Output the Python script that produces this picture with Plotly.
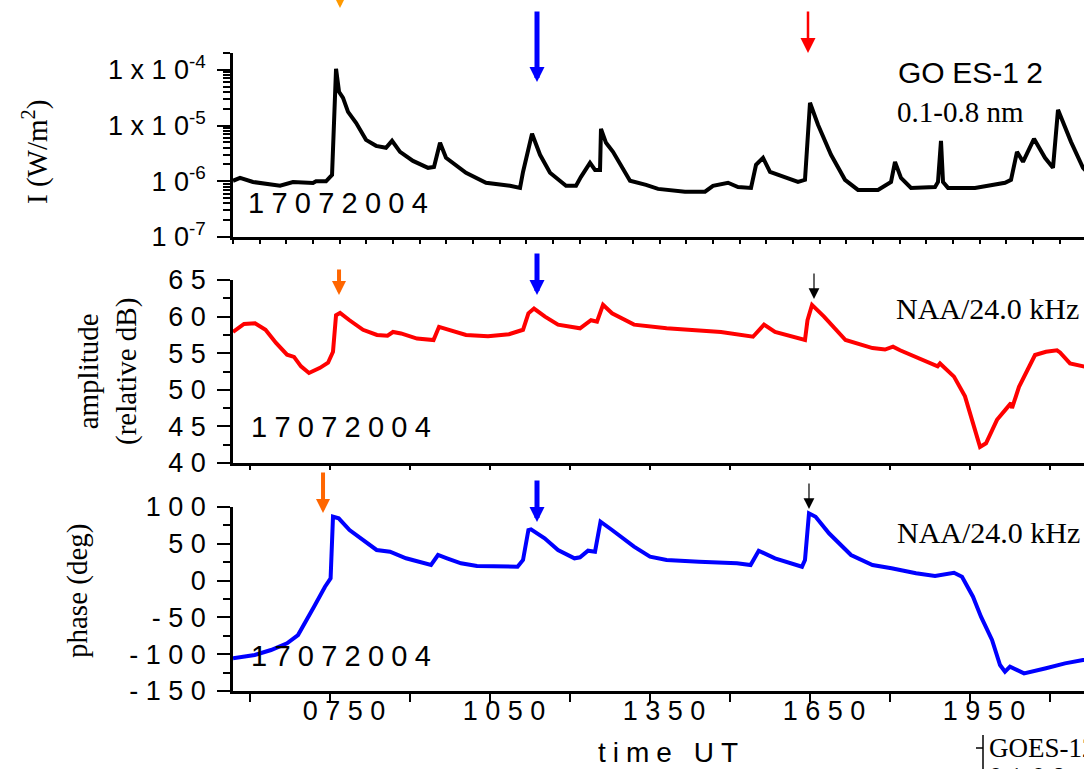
import plotly.graph_objects as go

# ---------------- data (time in decimal hours UT) ----------------
goes_time = [5.681, 5.813, 6.056, 6.300, 6.563, 6.806, 7.181, 7.238, 7.425, 7.538,
             7.613, 7.669, 7.744, 7.838, 7.988, 8.175, 8.363, 8.550, 8.663, 8.813,
             9.056, 9.338, 9.450, 9.563, 9.675, 10.050, 10.425, 10.875, 11.063, 11.119,
             11.288, 11.438, 11.625, 11.925, 12.113, 12.206, 12.375, 12.469, 12.563, 12.581,
             12.675, 12.806, 13.125, 13.425, 13.650, 14.156, 14.531, 14.681, 14.963, 15.150,
             15.394, 15.488, 15.619, 15.750, 15.900, 16.275, 16.406, 16.500, 16.650, 16.894,
             17.156, 17.400, 17.775, 18.019, 18.094, 18.206, 18.394, 18.844, 18.900, 18.956,
             18.994, 19.088, 19.594, 20.156, 20.269, 20.381, 20.494, 20.700, 20.906, 21.056,
             21.150, 21.394, 21.619, 21.750]
goes_flux = [1.02e-6, 1.15e-6, 0.97e-6, 0.90e-6, 0.83e-6, 0.97e-6, 0.93e-6, 1.0e-6, 1.0e-6, 1.30e-6,
             1.04e-4, 4.03e-5, 3.14e-5, 1.76e-5, 1.12e-5, 5.53e-6, 4.32e-6, 3.98e-6, 5.31e-6, 3.37e-6,
             2.32e-6, 1.74e-6, 1.81e-6, 4.89e-6, 2.63e-6, 1.42e-6, 0.94e-6, 0.83e-6, 0.76e-6, 1.47e-6,
             7.10e-6, 2.98e-6, 1.42e-6, 0.83e-6, 0.83e-6, 1.20e-6, 2.14e-6, 1.60e-6, 1.60e-6, 8.73e-6,
             4.89e-6, 3.37e-6, 1.02e-6, 0.86e-6, 0.73e-6, 0.65e-6, 0.65e-6, 0.83e-6, 0.94e-6, 0.79e-6,
             0.76e-6, 1.97e-6, 2.63e-6, 1.47e-6, 1.30e-6, 0.97e-6, 1.06e-6, 2.56e-5, 1.03e-5, 2.98e-6,
             1.06e-6, 0.70e-6, 0.70e-6, 0.97e-6, 2.23e-6, 1.15e-6, 0.76e-6, 0.79e-6, 0.97e-6, 5.31e-6,
             0.97e-6, 0.76e-6, 0.76e-6, 0.94e-6, 1.06e-6, 3.37e-6, 2.23e-6, 5.77e-6, 2.63e-6, 1.74e-6,
             1.91e-5, 5.09e-6, 1.74e-6, 1.30e-6]

amp_time = [5.681, 5.888, 6.094, 6.291, 6.488, 6.694, 6.825, 6.956, 7.106, 7.313,
            7.463, 7.556, 7.613, 7.688, 7.866, 8.119, 8.381, 8.578, 8.681, 8.831,
            9.131, 9.441, 9.544, 9.750, 10.050, 10.463, 10.856, 11.119, 11.220, 11.325,
            11.531, 11.775, 12.188, 12.394, 12.506, 12.619, 12.788, 13.200, 13.811, 14.831,
            15.431, 15.638, 15.844, 16.406, 16.453, 16.538, 16.763, 17.166, 17.672, 17.906,
            18.056, 18.188, 18.893, 18.938, 19.200, 19.406, 19.556, 19.688, 19.800, 20.006,
            20.213, 20.269, 20.288, 20.419, 20.719, 20.925, 21.131, 21.188, 21.375, 21.619,
            21.750]
amp_db = [57.9, 59.0, 59.1, 58.2, 56.4, 54.8, 54.5, 53.2, 52.3, 53.0,
          53.7, 55.2, 60.2, 60.5, 59.5, 58.2, 57.5, 57.4, 57.9, 57.7,
          57.0, 56.8, 58.6, 58.2, 57.5, 57.3, 57.6, 58.2, 60.45, 61.1,
          60.0, 58.9, 58.4, 59.5, 59.3, 61.6, 60.45, 58.9, 58.4, 57.9,
          57.25, 58.9, 57.9, 56.8, 59.5, 61.6, 60.0, 56.8, 55.7, 55.5,
          55.9, 55.4, 53.2, 53.6, 51.8, 49.1, 45.5, 42.2, 42.7, 45.9,
          47.7, 48.2, 47.5, 50.4, 54.75, 55.2, 55.4, 55.1, 53.6, 53.2,
          53.0]

phase_time = [5.681, 6.088, 6.394, 6.694, 6.900, 7.050, 7.200, 7.406, 7.511, 7.556,
              7.663, 7.866, 8.119, 8.374, 8.625, 8.925, 9.394, 9.525, 9.694, 9.956,
              10.256, 10.556, 11.016, 11.119, 11.220, 11.269, 11.524, 11.775, 12.084, 12.188,
              12.338, 12.469, 12.572, 12.788, 13.200, 13.500, 13.811, 14.419, 15.131, 15.386,
              15.538, 15.844, 16.350, 16.406, 16.481, 16.605, 16.856, 17.269, 17.672, 18.028,
              18.488, 18.844, 19.200, 19.350, 19.556, 19.706, 19.913, 20.063, 20.156, 20.250,
              20.513, 20.925, 21.281, 21.619, 21.750]
phase_deg = [-105.6, -101, -94.3, -85.2, -74, -53.5, -35.4, -8.3, 3.1, 86.8,
             84.6, 68.75, 55.2, 41.6, 39.3, 30.3, 21.2, 34.8, 30.3, 23.5,
             19.8, 19.8, 18.9, 28, 68.75, 69.7, 57.5, 41.6, 30.3, 31.6,
             40.6, 39.3, 80.0, 68.75, 46.1, 32.5, 28, 25.7, 23.5, 21.2,
             40.6, 30.3, 18.9, 28, 91.4, 86.8, 64.3, 34.8, 21.2, 16.7,
             9.9, 6.25, 10.7, 5.3, -21.9, -49, -80.7, -114.7, -123.8, -117,
             -126, -119, -112.4, -107.9, -107]

x_tick_vals = [6.0, 7.5, 9.0, 10.5, 12.0, 13.5, 15.0, 16.5, 18.0, 19.5, 21.0]
x_tick_text = ["", "0750", "", "1050", "", "1350", "", "1650", "", "1950", ""]
goes_tick_vals = [1e-7, 1e-6, 1e-5, 1e-4]
goes_tick_base = ["10", "10", "1x10", "1x10"]
goes_tick_exp = ["-7", "-6", "-5", "-4"]
amp_tick_vals = [40, 45, 50, 55, 60, 65]
phase_tick_vals = [-150, -100, -50, 0, 50, 100]

date_label = "17072004"

# ---------------- layout geometry ----------------
W, H = 1084, 769
ML, MR, MT, MB = 233, 0, 53, 78
PW = W - ML - MR
PH = H - MT - MB
X_RANGE = [5.681, 21.6375]


def px_x(px):
    return (px - ML) / PW


def px_y(py):
    return (H - MB - py) / PH


SP = " "
SP2 = "\u2005"


def spaced(s, sep=SP):
    return sep.join(s)


SANS = "Liberation Sans, Arial, sans-serif"
SERIF = "Liberation Serif, Times New Roman, serif"

fig = go.Figure()
fig.add_trace(go.Scatter(x=goes_time, y=goes_flux, mode="lines",
                         line=dict(color="black", width=4), xaxis="x", yaxis="y"))
fig.add_trace(go.Scatter(x=amp_time, y=amp_db, mode="lines",
                         line=dict(color="#ff0000", width=4), xaxis="x2", yaxis="y2"))
fig.add_trace(go.Scatter(x=phase_time, y=phase_deg, mode="lines",
                         line=dict(color="#0000ff", width=4), xaxis="x3", yaxis="y3"))

tickfont = dict(family=SANS, size=27, color="black")
common_x = dict(range=X_RANGE, showgrid=False, zeroline=False, showline=True,
                linecolor="black", linewidth=2.5, automargin=False)
common_y = dict(showgrid=False, zeroline=False, showline=True, linecolor="black",
                linewidth=2.5, ticks="outside", ticklen=13, tickwidth=2,
                tickcolor="black", tickfont=tickfont, automargin=False,
                ticklabelstandoff=6)

goes_minor = [k * 10.0 ** e for e in range(-7, -3) for k in range(2, 10)] + [2e-4]

fig.update_layout(
    width=W, height=H, template="none",
    paper_bgcolor="white", plot_bgcolor="white",
    margin=dict(l=ML, r=MR, t=MT, b=MB, pad=0),
    showlegend=False,
    xaxis=dict(common_x, anchor="y", ticks="outside", ticklen=4, tickwidth=1.5,
               tickcolor="black", tickmode="linear", tick0=X_RANGE[0], dtick=0.5,
               showticklabels=False),
    xaxis2=dict(common_x, anchor="y2", ticks="outside", ticklen=4, tickwidth=1.5,
                tickcolor="black", tickmode="array", tickvals=x_tick_vals,
                showticklabels=False),
    xaxis3=dict(common_x, anchor="y3", ticks="outside", ticklen=8, tickwidth=2,
                tickcolor="black", tickmode="array", tickvals=x_tick_vals,
                ticktext=[spaced(t) for t in x_tick_text], tickfont=tickfont,
                ticklabelshift=14, ticklabelstandoff=-14),
    yaxis=dict(common_y, domain=[px_y(237), px_y(53)], type="log",
               range=[-7, -3.699], tickmode="array", tickvals=goes_tick_vals,
               ticktext=[spaced(b) + "<sup>" + e + "</sup>"
                         for b, e in zip(goes_tick_base, goes_tick_exp)],
               minor=dict(ticks="outside", ticklen=7, tickwidth=1.5,
                          tickcolor="black", tickmode="array", tickvals=goes_minor),
               anchor="x"),
    yaxis2=dict(common_y, domain=[px_y(463), px_y(280)], range=[40, 65],
                tickmode="array", tickvals=amp_tick_vals,
                ticktext=[spaced(str(v)) for v in amp_tick_vals],
                minor=dict(ticks="outside", ticklen=7, tickwidth=1.5,
                           tickcolor="black", dtick=2.5, tick0=40),
                anchor="x2"),
    yaxis3=dict(common_y, domain=[0, px_y(507)], range=[-150, 100],
                tickmode="array", tickvals=phase_tick_vals,
                ticktext=[spaced(str(v)) for v in phase_tick_vals],
                minor=dict(ticks="outside", ticklen=7, tickwidth=1.5,
                           tickcolor="black", dtick=25, tick0=-150),
                anchor="x3"),
)

ann = []

# axis titles (rotated)
ann.append(dict(text="I (W/m<sup>2</sup>)", x=px_x(35), y=px_y(152), xref="paper", yref="paper",
                textangle=-90, showarrow=False, xanchor="center", yanchor="middle",
                font=dict(family=SERIF, size=29, color="black")))
ann.append(dict(text="amplitude<br>(relative dB)", x=px_x(107), y=px_y(372), xref="paper",
                yref="paper", textangle=-90, showarrow=False, xanchor="center",
                yanchor="middle", font=dict(family=SERIF, size=29, color="black")))
ann.append(dict(text="phase (deg)", x=px_x(77), y=px_y(591), xref="paper", yref="paper",
                textangle=-90, showarrow=False, xanchor="center", yanchor="middle",
                font=dict(family=SERIF, size=29, color="black")))
ann.append(dict(text=spaced("time UT", SP2), x=px_x(668), y=px_y(752), xref="paper",
                yref="paper", showarrow=False, xanchor="center", yanchor="middle",
                font=dict(family=SANS, size=28, color="black")))

# date labels
for py_c, px_l in [(203, 246), (427, 249), (656, 249)]:
    ann.append(dict(text=spaced(date_label, SP2), x=px_x(px_l), y=px_y(py_c), xref="paper",
                    yref="paper", showarrow=False, xanchor="left", yanchor="middle",
                    font=dict(family=SANS, size=29, color="black")))

# panel labels
ann.append(dict(text="GO" + SP2 + "ES-1" + SP2 + "2", x=px_x(896), y=px_y(72), xref="paper",
                yref="paper", showarrow=False, xanchor="left", yanchor="middle",
                font=dict(family=SANS, size=30, color="black")))
ann.append(dict(text="0.1-0.8 nm", x=px_x(895), y=px_y(112), xref="paper", yref="paper",
                showarrow=False, xanchor="left", yanchor="middle",
                font=dict(family=SERIF, size=29, color="black")))
ann.append(dict(text="NAA/24.0 kHz", x=px_x(894), y=px_y(308), xref="paper", yref="paper",
                showarrow=False, xanchor="left", yanchor="middle",
                font=dict(family=SERIF, size=30, color="black")))
ann.append(dict(text="NAA/24.0 kHz", x=px_x(895), y=px_y(532), xref="paper", yref="paper",
                showarrow=False, xanchor="left", yanchor="middle",
                font=dict(family=SERIF, size=30, color="black")))

# inset fragment at bottom right
ann.append(dict(text="GOES-12", x=px_x(987), y=px_y(748), xref="paper", yref="paper",
                showarrow=False, xanchor="left", yanchor="middle",
                font=dict(family=SERIF, size=27, color="black")))
ann.append(dict(text="0.1-0.8 nm", x=px_x(987), y=px_y(777), xref="paper", yref="paper",
                showarrow=False, xanchor="left", yanchor="middle",
                font=dict(family=SERIF, size=27, color="black")))

# event arrows: (time, tip px, tail px, color, width, size)
arrows = [
    (7.6875, 8, -40, "#ff9900", 4, 0.7),
    (11.381, 82, 10, "#0000ff", 5, 0.6),
    (16.4625, 53, 10, "#ff0000", 2.5, 1.2),
    (7.669, 295, 268, "#ff6600", 4, 0.7),
    (11.381, 295, 252, "#0000ff", 5, 0.6),
    (16.575, 299, 272, "black", 1.2, 1.8),
    (7.369, 513, 471, "#ff6600", 4, 0.7),
    (11.381, 522, 479, "#0000ff", 5, 0.6),
    (16.481, 509, 482, "black", 1.2, 1.8),
]
for t, tip, tail, col, wdt, sz in arrows:
    ann.append(dict(x=t, xref="x", y=px_y(tip), yref="paper", ax=0, ay=tail - tip,
                    axref="pixel", ayref="pixel", showarrow=True, arrowhead=2,
                    arrowwidth=wdt, arrowsize=sz, arrowcolor=col, text="",
                    standoff=0))

fig.update_layout(annotations=ann)

fig.add_shape(type="line", xref="paper", yref="paper", x0=px_x(983), x1=px_x(983),
              y0=px_y(735), y1=px_y(790), line=dict(color="black", width=1.5))
fig.add_shape(type="line", xref="paper", yref="paper", x0=px_x(976), x1=px_x(983),
              y0=px_y(748), y1=px_y(748), line=dict(color="black", width=1.5))

fig.write_html("out.html", config={"displayModeBar": False},
               post_script="document.body.style.margin='0';")
